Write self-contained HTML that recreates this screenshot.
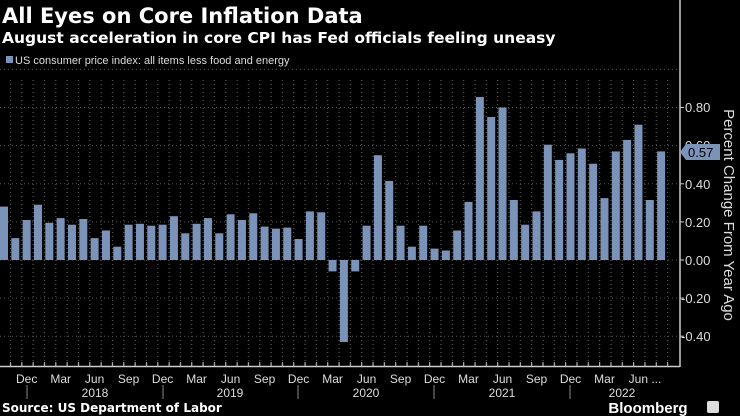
<!DOCTYPE html>
<html><head><meta charset="utf-8"><style>
html,body{margin:0;padding:0;background:#000;width:740px;height:416px;overflow:hidden}
svg{display:block}
</style></head><body>
<svg width="740" height="416" viewBox="0 0 740 416" xmlns="http://www.w3.org/2000/svg" font-family="Liberation Sans, sans-serif">
<defs>
<pattern id="vg" patternUnits="userSpaceOnUse" x="0" y="0" width="11.33" height="4">
<rect x="10" y="0" width="1" height="1" fill="#666"/>
</pattern>
<pattern id="tk" patternUnits="userSpaceOnUse" x="0" y="0" width="11.33" height="10">
<rect x="10" y="0" width="1" height="10" fill="#ccc"/>
</pattern>
</defs>
<rect width="740" height="416" fill="#000"/>
<text x="2" y="23" fill="#fff" font-size="21" font-weight="bold" font-family="DejaVu Sans, sans-serif">All Eyes on Core Inflation Data</text>
<text x="2" y="43" fill="#fff" font-size="15.5" font-weight="bold" font-family="DejaVu Sans, sans-serif">August acceleration in core CPI has Fed officials feeling uneasy</text>
<rect x="6" y="56" width="7" height="7" fill="#7b93b8"/>
<text x="15" y="64" fill="#ddd" font-size="11">US consumer price index: all items less food and energy</text>
<rect x="0" y="78" width="670" height="288" fill="url(#vg)"/>
<g stroke="#555" stroke-dasharray="1,3" stroke-width="1">
<line x1="0" x2="680" y1="69.4" y2="69.4"/>
<line x1="0" x2="680" y1="107.5" y2="107.5"/>
<line x1="0" x2="680" y1="145.6" y2="145.6"/>
<line x1="0" x2="680" y1="183.8" y2="183.8"/>
<line x1="0" x2="680" y1="221.9" y2="221.9"/>
<line x1="0" x2="680" y1="260" y2="260"/>
<line x1="0" x2="680" y1="298.1" y2="298.1"/>
<line x1="0" x2="680" y1="336.2" y2="336.2"/>
</g>
<g fill="#7b93b8">
<rect x="0" y="206.6" width="8" height="53.4"/>
<rect x="11.33" y="238.1" width="8" height="21.9"/>
<rect x="22.66" y="220" width="8" height="40"/>
<rect x="33.99" y="204.7" width="8" height="55.3"/>
<rect x="45.32" y="222.8" width="8" height="37.2"/>
<rect x="56.65" y="218.1" width="8" height="41.9"/>
<rect x="67.98" y="224.7" width="8" height="35.3"/>
<rect x="79.31" y="219" width="8" height="41"/>
<rect x="90.64" y="238.1" width="8" height="21.9"/>
<rect x="101.97" y="230.5" width="8" height="29.5"/>
<rect x="113.3" y="246.7" width="8" height="13.3"/>
<rect x="124.63" y="224.7" width="8" height="35.3"/>
<rect x="135.96" y="223.8" width="8" height="36.2"/>
<rect x="147.29" y="225.7" width="8" height="34.3"/>
<rect x="158.62" y="224.7" width="8" height="35.3"/>
<rect x="169.95" y="216.2" width="8" height="43.8"/>
<rect x="181.28" y="233.3" width="8" height="26.7"/>
<rect x="192.61" y="223.8" width="8" height="36.2"/>
<rect x="203.94" y="218.1" width="8" height="41.9"/>
<rect x="215.27" y="233.3" width="8" height="26.7"/>
<rect x="226.6" y="214.3" width="8" height="45.7"/>
<rect x="237.93" y="220" width="8" height="40"/>
<rect x="249.26" y="213.3" width="8" height="46.7"/>
<rect x="260.59" y="226.6" width="8" height="33.4"/>
<rect x="271.92" y="228.6" width="8" height="31.4"/>
<rect x="283.25" y="227.6" width="8" height="32.4"/>
<rect x="294.58" y="239" width="8" height="21"/>
<rect x="305.91" y="211.4" width="8" height="48.6"/>
<rect x="317.24" y="212.3" width="8" height="47.7"/>
<rect x="328.57" y="260" width="8" height="11.4"/>
<rect x="339.9" y="260" width="8" height="82"/>
<rect x="351.23" y="260" width="8" height="11.4"/>
<rect x="362.56" y="225.7" width="8" height="34.3"/>
<rect x="373.89" y="155.2" width="8" height="104.8"/>
<rect x="385.22" y="180.9" width="8" height="79.1"/>
<rect x="396.55" y="225.7" width="8" height="34.3"/>
<rect x="407.88" y="246.7" width="8" height="13.3"/>
<rect x="419.21" y="225.7" width="8" height="34.3"/>
<rect x="430.54" y="248.6" width="8" height="11.4"/>
<rect x="441.87" y="250.5" width="8" height="9.5"/>
<rect x="453.2" y="230.5" width="8" height="29.5"/>
<rect x="464.53" y="201.9" width="8" height="58.1"/>
<rect x="475.86" y="97" width="8" height="163"/>
<rect x="487.19" y="117" width="8" height="143"/>
<rect x="498.52" y="107.5" width="8" height="152.5"/>
<rect x="509.85" y="200" width="8" height="60"/>
<rect x="521.18" y="224.7" width="8" height="35.3"/>
<rect x="532.51" y="211.4" width="8" height="48.6"/>
<rect x="543.84" y="144.7" width="8" height="115.3"/>
<rect x="555.17" y="159.9" width="8" height="100.1"/>
<rect x="566.5" y="153.3" width="8" height="106.7"/>
<rect x="577.83" y="148.5" width="8" height="111.5"/>
<rect x="589.16" y="163.7" width="8" height="96.3"/>
<rect x="600.49" y="198.1" width="8" height="61.9"/>
<rect x="611.82" y="151.4" width="8" height="108.6"/>
<rect x="623.15" y="139.9" width="8" height="120.1"/>
<rect x="634.48" y="124.7" width="8" height="135.3"/>
<rect x="645.81" y="200" width="8" height="60"/>
<rect x="657.14" y="151.4" width="8" height="108.6"/>
</g>
<rect x="0" y="362" width="670" height="4" fill="url(#tk)"/>
<line x1="0" y1="366.5" x2="680" y2="366.5" stroke="#ccc" stroke-width="1.5"/>
<line x1="680" y1="0" x2="680" y2="367" stroke="#ccc" stroke-width="1.5"/>
<g stroke="#ccc" stroke-width="1">
<line x1="680" x2="684" y1="107.5" y2="107.5"/><line x1="680" x2="684" y1="183.8" y2="183.8"/><line x1="680" x2="684" y1="221.9" y2="221.9"/><line x1="680" x2="684" y1="260" y2="260"/><line x1="680" x2="684" y1="298.1" y2="298.1"/><line x1="680" x2="684" y1="336.2" y2="336.2"/>
</g>
<g fill="#ddd" font-size="13">
<text x="685" y="112">0.80</text>
<text x="685" y="150">0.60</text>
<text x="685" y="189">0.40</text>
<text x="685" y="227">0.20</text>
<text x="685" y="265">0.00</text>
<text x="681" y="303">-0.20</text>
<text x="681" y="341">-0.40</text>
</g>
<polygon points="680,152 686,144 720,144 720,160 686,160" fill="#7b93b8"/>
<text x="688" y="157" fill="#000" font-size="13">0.57</text>
<text transform="translate(724,215) rotate(90)" text-anchor="middle" fill="#ddd" font-size="15">Percent Change From Year Ago</text>
<g fill="#ddd" font-size="12" text-anchor="middle">
<text x="26.7" y="383">Dec</text><text x="60.7" y="383">Mar</text><text x="94.6" y="383">Jun</text><text x="128.6" y="383">Sep</text>
<text x="162.6" y="383">Dec</text><text x="196.6" y="383">Mar</text><text x="230.6" y="383">Jun</text><text x="264.6" y="383">Sep</text>
<text x="298.6" y="383">Dec</text><text x="332.6" y="383">Mar</text><text x="366.6" y="383">Jun</text><text x="400.6" y="383">Sep</text>
<text x="434.5" y="383">Dec</text><text x="468.5" y="383">Mar</text><text x="502.5" y="383">Jun</text><text x="536.5" y="383">Sep</text>
<text x="570.5" y="383">Dec</text><text x="604.5" y="383">Mar</text><text x="645" y="383">Jun ...</text>
<text x="95" y="397">2018</text><text x="230" y="397">2019</text><text x="366" y="397">2020</text><text x="502" y="397">2021</text><text x="622" y="397">2022</text>
</g>
<g stroke="#888" stroke-width="1">
<line x1="27" y1="385" x2="27" y2="399"/><line x1="163" y1="385" x2="163" y2="399"/><line x1="298" y1="385" x2="298" y2="399"/><line x1="434" y1="385" x2="434" y2="399"/><line x1="570" y1="385" x2="570" y2="399"/>
</g>
<text x="2" y="412" fill="#fff" font-size="12" font-weight="bold" font-family="DejaVu Sans, sans-serif">Source: US Department of Labor</text>
<text x="648" y="413" fill="#fff" font-size="15" font-weight="bold" text-anchor="middle">Bloomberg</text>
<rect x="707" y="401" width="12" height="12" rx="2" fill="#ddd"/>
</svg>
</body></html>
